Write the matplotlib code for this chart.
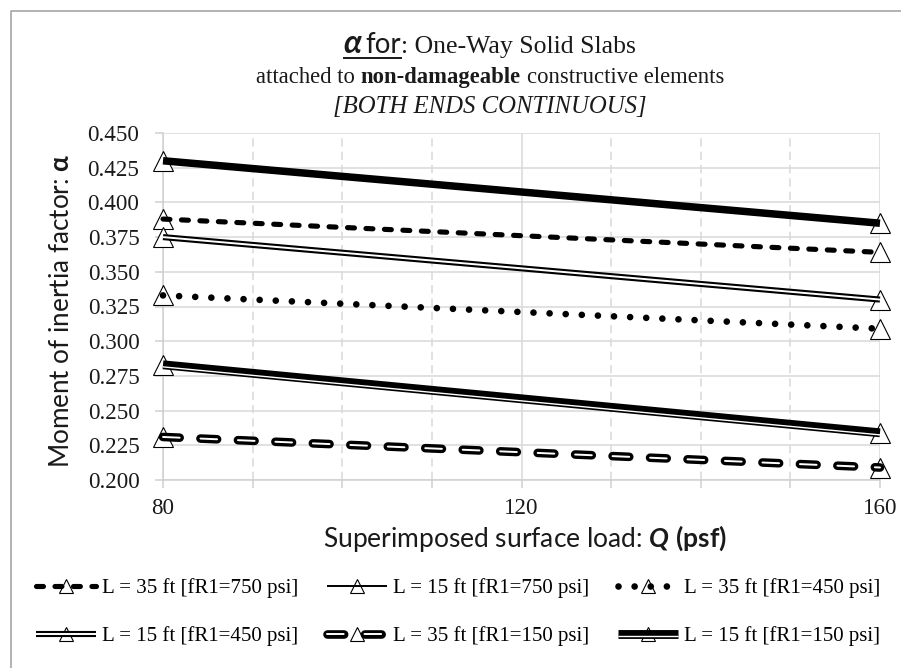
import matplotlib
matplotlib.use('Agg')
import matplotlib.pyplot as plt
import matplotlib.patheffects as pe
from matplotlib.lines import Line2D
from matplotlib.legend_handler import HandlerTuple

plt.rcParams['font.family'] = ['Liberation Serif', 'DejaVu Serif']
plt.rcParams['lines.scale_dashes'] = False
plt.rcParams['mathtext.fontset'] = 'custom'
plt.rcParams['mathtext.rm'] = 'Lato'
plt.rcParams['mathtext.bf'] = 'Lato:bold'
plt.rcParams['mathtext.bfit'] = 'Lato:bold:italic'

# ---------------- data ----------------
q_psf = [80, 160]
alpha_35_750 = [0.388, 0.364]
alpha_15_750 = [0.430, 0.385]
alpha_35_450 = [0.333, 0.309]
alpha_15_450 = [0.375, 0.330]
alpha_35_150 = [0.231, 0.209]
alpha_15_150 = [0.283, 0.234]

label_35_750 = "L = 35 ft [fR1=750 psi]"
label_15_750 = "L = 15 ft [fR1=750 psi]"
label_35_450 = "L = 35 ft [fR1=450 psi]"
label_15_450 = "L = 15 ft [fR1=450 psi]"
label_35_150 = "L = 35 ft [fR1=150 psi]"
label_15_150 = "L = 15 ft [fR1=150 psi]"

x_major_ticks = [80, 120, 160]
x_minor_ticks = [90, 100, 110, 130, 140, 150]
y_ticks = [0.200, 0.225, 0.250, 0.275, 0.300, 0.325, 0.350, 0.375, 0.400, 0.425, 0.450]

W, H = 901, 668
fig = plt.figure(figsize=(W / 100, H / 100), dpi=100)
ax = fig.add_axes([163 / W, 1 - 480 / H, (880 - 163) / W, (480 - 133) / H])

GRID = '#d9d9d9'
TXT = '#1a1a1a'

# ---------------- styles ----------------
styles = {
    '35_750': dict(lw=3.7, ls=(0, (5, 8.3)), dash_capstyle='round', path_effects=None),
    '15_750': dict(lw=5.4, ls='-', path_effects=None),
    '35_450': dict(lw=4.8, ls=(0, (0.01, 11.6)), dash_capstyle='round', path_effects=None),
    '15_450': dict(lw=4.4, ls='-', path_effects=[pe.Normal(), pe.Stroke(linewidth=1.4, foreground='white')]),
    '35_150': dict(lw=6.2, ls=(0, (12, 15)), dash_capstyle='round',
                   path_effects=[pe.Normal(), pe.Stroke(linewidth=1.4, foreground='white')]),
    '15_150': dict(lw=6.4, ls='-',
                   path_effects=[pe.Normal(), pe.Stroke(linewidth=1.0, foreground='white', offset=(0, -1.5))]),
}

series = [
    ('35_750', alpha_35_750, label_35_750),
    ('15_750', alpha_15_750, label_15_750),
    ('35_450', alpha_35_450, label_35_450),
    ('15_450', alpha_15_450, label_15_450),
    ('35_150', alpha_35_150, label_35_150),
    ('15_150', alpha_15_150, label_15_150),
]

handles = {}
for key, vals, lab in series:
    st = dict(styles[key])
    peff = st.pop('path_effects')
    ax.plot(q_psf, vals, ls='none', marker='^', ms=14.4, mfc='white', mec='black',
            mew=0.8, zorder=3, clip_on=False)
    ln, = ax.plot(q_psf, vals, color='black', solid_capstyle='butt', zorder=4,
                  clip_on=False, **st)
    if peff:
        ln.set_path_effects(peff)
    # legend proxies
    pst = dict(styles[key])
    pst.pop('path_effects')
    if key == '15_750':
        pst['lw'] = 1.4
    lp = Line2D([], [], color='black', solid_capstyle='butt', **pst)
    if peff:
        lp.set_path_effects(peff)
    mp = Line2D([], [], ls='none', marker='^', ms=9.5, mfc='white', mec='black', mew=0.8)
    handles[key] = ((mp, lp), lab)

# ---------------- axes ----------------
ax.set_xlim(80, 160)
ax.set_ylim(0.2, 0.45)
ax.set_xticks(x_major_ticks)
ax.set_xticks(x_minor_ticks, minor=True)
ax.set_yticks(y_ticks)
ax.set_yticklabels([f'{v:.3f}' for v in y_ticks])
ax.set_axisbelow(True)
ax.grid(axis='y', which='major', color=GRID, lw=1.1)
ax.grid(axis='x', which='major', color=GRID, lw=1.1)
ax.grid(axis='x', which='minor', color=GRID, lw=1.1, ls=(0, (6, 3.6)))
for s in ['top', 'right']:
    ax.spines[s].set_visible(False)
for s in ['left', 'bottom']:
    ax.spines[s].set_color('#cfcfcf')
    ax.spines[s].set_linewidth(1.1)
ax.tick_params(axis='both', which='both', direction='out', length=6, width=1.1,
               color='#cfcfcf', labelsize=16.6, labelcolor=TXT)
ax.tick_params(axis='y', pad=11)
ax.tick_params(axis='x', pad=7)

ax.set_xlabel("Superimposed surface load: $\\mathbfit{Q}$ $\\mathbf{(psf)}$",
              family=['Lato', 'DejaVu Sans'], size=19, color=TXT)
ax.xaxis.set_label_coords((525 - 163) / 717, -(538 - 480) / 347)
ax.xaxis.label.set_va('center')
ax.set_ylabel("Moment of inertia factor: $\\mathbf{\\alpha}$",
              family=['Lato', 'DejaVu Sans'], size=18.8, color=TXT, va='center')
ax.yaxis.set_label_coords((62 - 163) / 717, 0.5 + (306 - 310) / 347)

# ---------------- title (rich text) ----------------
renderer = fig.canvas.get_renderer()


def rich_line(pieces, xc_px, base_px):
    texts = []
    for s, kw, gap in pieces:
        t = fig.text(0, 1 - base_px / H, s, va='baseline', ha='left', color=TXT, **kw)
        texts.append((t, gap))
    widths = [t.get_window_extent(renderer).width for t, g in texts]
    total = sum(widths) + sum(g for t, g in texts)
    x = xc_px - total / 2
    spans = []
    for (t, g), w in zip(texts, widths):
        t.set_x(x / W)
        spans.append((x, x + w))
        x += w + g
    return spans


serif = dict(family=['Liberation Serif', 'DejaVu Serif'], size=16.3)
spans = rich_line([
    ("α", dict(family=['Lato', 'Open Sans', 'DejaVu Sans'], size=23, weight='bold', style='italic'), 4),
    ("for", dict(family=['Lato', 'DejaVu Sans'], size=20), 0),
    (": One-Way Solid Slabs", dict(serif, size=18.5), 0),
], 490, 53)
fig.add_artist(Line2D([spans[0][0] / W, spans[1][1] / W], [1 - 57.5 / H, 1 - 57.5 / H],
                      transform=fig.transFigure, color=TXT, lw=1.4))
rich_line([
    ("attached to", serif, 5.7),
    ("non-damageable", dict(serif, weight='bold'), 5.7),
    ("constructive elements", serif, 0),
], 490, 83)
rich_line([
    ("[BOTH ENDS CONTINUOUS]", dict(serif, style='italic', size=17.8), 0),
], 490, 113)

# ---------------- legend ----------------
order = ['35_750', '15_450', '15_750', '35_150', '35_450', '15_150']
fig.legend([handles[k][0] for k in order], [handles[k][1] for k in order],
           handler_map={tuple: HandlerTuple(ndivide=1)},
           ncol=3, loc='center', bbox_to_anchor=(458 / W, 1 - 612 / H),
           frameon=False, prop={'family': 'Liberation Serif', 'size': 15},
           handlelength=2.9, handletextpad=0.3, columnspacing=1.35,
           labelspacing=1.35, numpoints=1, borderpad=0.2)

# chart border (left and top)
fig.add_artist(Line2D([10.5 / W, 10.5 / W, 1], [0, 1 - 10.5 / H, 1 - 10.5 / H],
                      transform=fig.transFigure, color='#a6a6a6', lw=1.2))

fig.savefig('out.png', dpi=100)
